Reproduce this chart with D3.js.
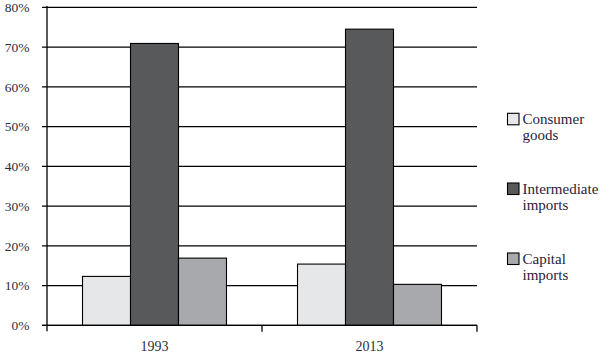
<!DOCTYPE html>
<html>
<head>
<meta charset="utf-8">
<script src="https://cdn.jsdelivr.net/npm/d3@7"></script>
<style>
  html, body { margin: 0; padding: 0; background: #fff; }
  svg { display: block; }
  text { font-family: "Liberation Serif", "DejaVu Serif", serif; }
</style>
</head>
<body>
<svg id="chart" width="609" height="359"></svg>
<script>
const categories = ["1993", "2013"];
const seriesNames = ["Consumer goods", "Intermediate imports", "Capital imports"];
const legendLines = [["Consumer", "goods"], ["Intermediate", "imports"], ["Capital", "imports"]];
const consumerGoods = [12.3, 15.4];
const intermediateImports = [70.9, 74.5];
const capitalImports = [16.9, 10.3];
const yTickValues = [0, 10, 20, 30, 40, 50, 60, 70, 80];
const yTickLabels = ["0%", "10%", "20%", "30%", "40%", "50%", "60%", "70%", "80%"];
const colors = ["#e6e7e8", "#58595b", "#a7a9ac"];

const seriesValues = [consumerGoods, intermediateImports, capitalImports];
const svg = d3.select("#chart");

const plotLeft = 47, plotRight = 477, plotTop = 7.3, plotBottom = 325.3;
const y = d3.scaleLinear().domain([0, 80]).range([plotBottom, plotTop]);
const x0 = d3.scaleBand().domain(categories).range([plotLeft, plotRight]).padding(0);
const x1 = d3.scaleBand().domain(seriesNames).range([0, x0.bandwidth()])
  .paddingInner(0).paddingOuter(0.74);

// gridlines
svg.append("g").selectAll("line").data(yTickValues).join("line")
  .attr("x1", plotLeft - 5).attr("x2", plotRight)
  .attr("y1", d => y(d)).attr("y2", d => y(d))
  .attr("stroke", "#000").attr("stroke-width", 1.3);

// y tick labels
svg.append("g").selectAll("text").data(yTickValues).join("text")
  .attr("x", 29.5).attr("y", d => y(d))
  .attr("dy", "0.35em")
  .attr("text-anchor", "end")
  .attr("font-size", 13.5)
  .attr("fill", "#2e2e3a")
  .text((d, i) => yTickLabels[i]);

// bars
const groups = svg.append("g").selectAll("g").data(categories).join("g")
  .attr("transform", d => `translate(${x0(d)},0)`);
groups.selectAll("rect")
  .data((c, ci) => seriesNames.map((s, si) => ({ s, si, v: seriesValues[si][ci] })))
  .join("rect")
  .attr("x", d => x1(d.s))
  .attr("width", x1.bandwidth())
  .attr("y", d => y(d.v))
  .attr("height", d => y(0) - y(d.v))
  .attr("fill", d => colors[d.si])
  .attr("stroke", "#000").attr("stroke-width", 1.1);

// y axis line
svg.append("line").attr("x1", plotLeft).attr("x2", plotLeft)
  .attr("y1", plotTop - 1.3).attr("y2", plotBottom + 6)
  .attr("stroke", "#000").attr("stroke-width", 1.3);

// x axis baseline & ticks at band boundaries
svg.append("line").attr("x1", plotLeft - 5).attr("x2", plotRight)
  .attr("y1", y(0)).attr("y2", y(0))
  .attr("stroke", "#000").attr("stroke-width", 1.3);
const boundaries = categories.map(c => x0(c)).concat([x0(categories[categories.length - 1]) + x0.bandwidth()]);
svg.append("g").selectAll("line").data(boundaries.slice(1)).join("line")
  .attr("x1", d => d).attr("x2", d => d)
  .attr("y1", y(0)).attr("y2", y(0) + 6.5)
  .attr("stroke", "#000").attr("stroke-width", 1.3);

// x labels
svg.append("g").selectAll("text").data(categories).join("text")
  .attr("x", d => x0(d) + x0.bandwidth() / 2)
  .attr("y", 351)
  .attr("text-anchor", "middle")
  .attr("font-size", 14)
  .attr("fill", "#2e2e3a")
  .text(d => d);

// legend
const legendTops = [113.3, 183, 253];
const lg = svg.append("g").selectAll("g").data(seriesNames).join("g")
  .attr("transform", (d, i) => `translate(507.5,${legendTops[i]})`);
lg.append("rect").attr("x", 0).attr("y", 0).attr("width", 11.5).attr("height", 11.5)
  .attr("fill", (d, i) => colors[i]).attr("stroke", "#000").attr("stroke-width", 1.1);
lg.each(function (d, i) {
  const t = d3.select(this).append("text")
    .attr("font-size", 15).attr("fill", "#2a2238");
  legendLines[i].forEach((ln, k) => {
    t.append("tspan").attr("x", 15).attr("y", 11 + k * 16).text(ln);
  });
});
</script>
</body>
</html>
